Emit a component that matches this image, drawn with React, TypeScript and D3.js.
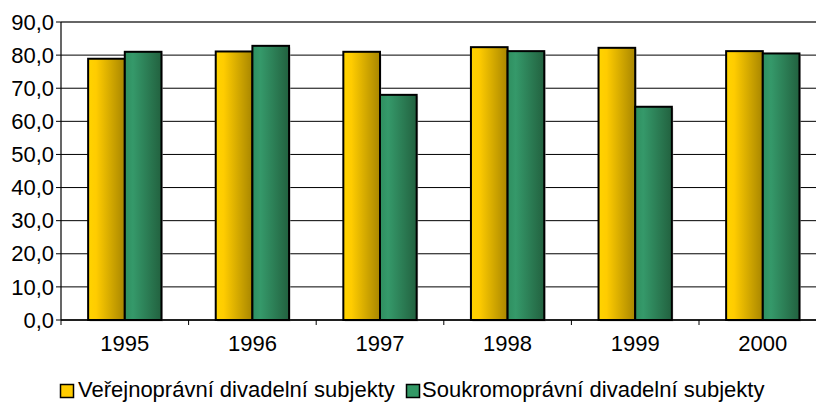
import React from "react";
import * as d3 from "d3";

// years on the x axis
const years = ["1995", "1996", "1997", "1998", "1999", "2000"];
// series values (percent)
const verejnopravni = [78.9, 81.1, 81.0, 82.4, 82.2, 81.2];
const soukromopravni = [81.0, 82.8, 68.0, 81.2, 64.4, 80.5];
const seriesNames = [
	"Veřejnoprávní divadelní subjekty",
	"Soukromoprávní divadelní subjekty",
];
const yTicks = [0, 10, 20, 30, 40, 50, 60, 70, 80, 90];

const czLocale = d3.formatLocale({
	decimal: ",",
	thousands: " ",
	grouping: [3],
	currency: ["", " Kč"],
});
const fmt = czLocale.format(".1f");

const FONT = "'Liberation Sans', Arial, sans-serif";

export default function App() {
	const width = 816;
	const height = 405;
	const left = 61;
	const top = 22;
	const bottom = 320;
	const step = 127.6;

	const x0 = d3
		.scaleBand()
		.domain(years)
		.range([left, left + step * years.length])
		.padding(0);

	const x1 = d3
		.scaleBand()
		.domain(["v", "s"])
		.range([0, x0.bandwidth()])
		.paddingInner(0)
		.paddingOuter(0.74);

	const y = d3.scaleLinear().domain([0, 90]).range([bottom, top]);

	const rows = years.map((yr, i) => ({
		year: yr,
		v: verejnopravni[i],
		s: soukromopravni[i],
	}));

	const fills = { v: "url(#gradYellow)", s: "url(#gradGreen)" };

	return (
		<svg
			width={width}
			height={height}
			style={{ position: "absolute", left: 0, top: 0, background: "#fff" }}
			fontFamily={FONT}
		>
			<defs>
				<linearGradient id="gradYellow" x1="0" x2="1" y1="0" y2="0">
					<stop offset="0%" stopColor="#FFD400" />
					<stop offset="22%" stopColor="#FFCC00" />
					<stop offset="100%" stopColor="#A88600" />
				</linearGradient>
				<linearGradient id="gradGreen" x1="0" x2="1" y1="0" y2="0">
					<stop offset="0%" stopColor="#2F8F60" />
					<stop offset="22%" stopColor="#35996A" />
					<stop offset="100%" stopColor="#22613F" />
				</linearGradient>
			</defs>

			{/* grid */}
			{yTicks.map((t) => (
				<line
					key={"g" + t}
					x1={left}
					x2={width}
					y1={y(t)}
					y2={y(t)}
					stroke={t === 90 ? "#333" : "#000"}
					strokeWidth={t === 90 ? 1.5 : 1}
				/>
			))}

			{/* y axis */}
			<line x1={left} x2={left} y1={top} y2={bottom} stroke="#000" strokeWidth={1.2} />
			{yTicks.map((t) => (
				<g key={"yt" + t}>
					<line x1={left - 5} x2={left} y1={y(t)} y2={y(t)} stroke="#000" />
					<text
						x={left - 7}
						y={y(t)}
						dy="0.35em"
						textAnchor="end"
						fontSize={22}
						fill="#000"
					>
						{fmt(t)}
					</text>
				</g>
			))}

			{/* bars */}
			{rows.map((r) => (
				<g key={r.year} transform={`translate(${x0(r.year)},0)`}>
					{(["v", "s"] as const).map((k) => (
						<g key={k}>
							<rect
								x={x1(k)! + 1.5}
								y={y(r[k]) + 1.5}
								width={x1.bandwidth()}
								height={bottom - y(r[k])}
								fill="#bbb"
								opacity={0.6}
							/>
							<rect
								x={x1(k)}
								y={y(r[k])}
								width={x1.bandwidth()}
								height={bottom - y(r[k])}
								fill={fills[k]}
								stroke="#000"
								strokeWidth={2}
							/>
						</g>
					))}
				</g>
			))}

			{/* x axis */}
			<line x1={left} x2={width} y1={bottom} y2={bottom} stroke="#000" strokeWidth={1.5} />
			{years.map((yr) => (
				<g key={"xt" + yr}>
					<line
						x1={x0(yr)! + x0.bandwidth()}
						x2={x0(yr)! + x0.bandwidth()}
						y1={bottom}
						y2={bottom + 5}
						stroke="#000"
					/>
					<text
						x={x0(yr)! + x0.bandwidth() / 2}
						y={351}
						textAnchor="middle"
						fontSize={22}
						fill="#000"
					>
						{yr}
					</text>
				</g>
			))}
			<line x1={left} x2={left} y1={bottom} y2={bottom + 5} stroke="#000" />

			{/* legend */}
			<g>
				<rect x={60.5} y={384.5} width={13} height={13} fill="#FFCC00" stroke="#000" strokeWidth={1.5} />
				<text x={78} y={397} fontSize={22} fill="#000">
					{seriesNames[0]}
				</text>
				<rect x={406.5} y={384.5} width={13} height={13} fill="#339966" stroke="#000" strokeWidth={1.5} />
				<text x={422} y={397} fontSize={22} fill="#000">
					{seriesNames[1]}
				</text>
			</g>
		</svg>
	);
}
